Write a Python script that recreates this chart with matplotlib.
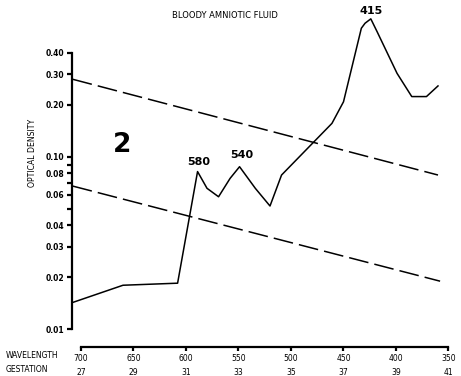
import matplotlib
matplotlib.use("Agg")
import matplotlib.pyplot as plt
from matplotlib.ticker import NullLocator

# spectrum of bloody amniotic fluid (wavelength nm, optical density)
wavelength = [708, 660, 608, 589, 580, 569, 558, 549, 534, 520, 509,
              461, 450, 433, 429.5, 424, 418, 399, 385, 371, 360]
density = [0.0143, 0.0180, 0.0185, 0.082, 0.0656, 0.0586, 0.0749, 0.0875,
           0.0656, 0.0518, 0.0783, 0.156, 0.208, 0.555, 0.593, 0.629,
           0.530, 0.304, 0.223, 0.223, 0.257]

# dashed zone boundaries
upper_x = [708, 360]
upper_y = [0.281, 0.0783]
lower_x = [708, 358]
lower_y = [0.0676, 0.0190]

# peak annotations
peak_labels = ["580", "540", "415"]
peak_x = [588, 547, 424]
peak_y = [0.093, 0.102, 0.70]

wl_ticks = [700, 650, 600, 550, 500, 450, 400, 350]
gest_ticks = [27, 29, 31, 33, 35, 37, 39, 41]
od_ticks = [0.01, 0.02, 0.03, 0.04, 0.05, 0.06, 0.07, 0.08, 0.09, 0.10, 0.20, 0.30, 0.40]
od_labels = ["0.01", "0.02", "0.03", "0.04", "", "0.06", "", "0.08", "", "0.10", "0.20", "0.30", "0.40"]

plt.rcParams['font.family'] = ['DejaVu Sans']

fig = plt.figure(figsize=(4.61, 3.76), dpi=100)
ax = fig.add_axes([0.1568, 0.1242, 0.8236, 0.847])

ax.plot(wavelength, density, color="black", lw=1.1)
ax.plot(upper_x, upper_y, color="black", lw=1.1, dashes=(13, 4))
ax.plot(lower_x, lower_y, color="black", lw=1.1, dashes=(13, 4))

ax.set_yscale("log")
ax.set_ylim(0.01, 0.7)
ax.set_xlim(708.3, 346.7)

for lab, x, y in zip(peak_labels, peak_x, peak_y):
    ax.text(x, y, lab, ha="center", va="center", fontsize=8, fontweight="bold")
ax.text(661, 0.117, "2", ha="center", va="center", fontsize=19, fontweight="bold")

ax.spines["top"].set_visible(False)
ax.spines["right"].set_visible(False)
ax.spines["left"].set_bounds(0.01, 0.40)
ax.spines["left"].set_linewidth(1.6)
ax.spines["bottom"].set_position(("outward", 13))
ax.spines["bottom"].set_bounds(350, 700)
ax.spines["bottom"].set_linewidth(1.6)

ax.yaxis.set_minor_locator(NullLocator())
ax.set_yticks(od_ticks)
ax.set_yticklabels(od_labels, fontsize=5.5, fontweight="bold")
ax.tick_params(axis="y", length=3.5, width=1.6, pad=2)

ax.set_xticks(wl_ticks)
ax.set_xticklabels([f"{w}\n{g}" for w, g in zip(wl_ticks, gest_ticks)],
                   fontsize=5.5, linespacing=1.6)
ax.tick_params(axis="x", length=3, width=1.6, pad=2)

fig.text(32 / 461, 1 - 153 / 376, "OPTICAL DENSITY", fontsize=5.6, rotation=90,
         ha="center", va="center")
fig.text(0.012, 0.036, "WAVELENGTH\nGESTATION", fontsize=5.5, linespacing=1.6,
         ha="left", va="center")
fig.text(0.488, 0.96, "BLOODY AMNIOTIC FLUID", fontsize=6, ha="center", va="center")

fig.savefig("out.png", dpi=100)
